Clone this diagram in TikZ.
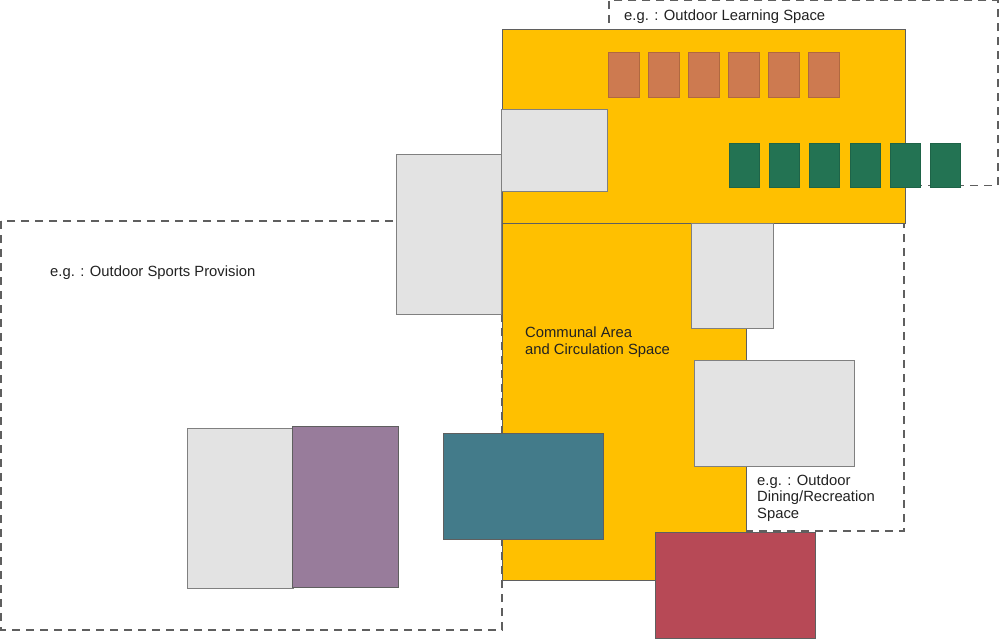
\documentclass[tikz,border=0pt]{standalone}
\usepackage{fontspec}
\setmainfont{Liberation Sans}
\definecolor{cyel}{HTML}{FFC000}
\definecolor{corange}{HTML}{CD7A50}
\definecolor{corangeb}{HTML}{B0683F}
\definecolor{cgreen}{HTML}{237353}
\definecolor{cgreenb}{HTML}{1E6448}
\definecolor{cgrey}{HTML}{E3E3E3}
\definecolor{cgreyb}{HTML}{808080}
\definecolor{cpurple}{HTML}{987C9B}
\definecolor{cteal}{HTML}{437B8A}
\definecolor{cred}{HTML}{B74956}
\definecolor{cedge}{HTML}{5F5F5F}
\definecolor{ctext}{HTML}{222222}
\begin{document}
\begin{tikzpicture}[x=1pt,y=-1pt,
  zone/.style={draw=cedge,line width=1.3pt,dash pattern=on 8pt off 6pt},
  hall/.style={fill=cyel,draw=cedge,line width=0.8pt},
  greybox/.style={fill=cgrey,draw=cgreyb,line width=1pt},
  classroom/.style={fill=corange,draw=corangeb,line width=0.8pt},
  greenroom/.style={fill=cgreen,draw=cgreenb,line width=0.8pt},
  colbox/.style={draw=cedge,line width=0.8pt},
  label/.style={font=\fontsize{14.8}{16.5}\selectfont,text=ctext,inner sep=0pt,anchor=base west,align=left}]
\useasboundingbox[fill=white] (0,0) rectangle (1000,639);
% dashed outdoor zones
\draw[zone] (609,0.8) rectangle (998,185.5);
\draw[zone] (1,221) rectangle (502,630);
\draw[zone] (746,222) rectangle (904,531);
% communal area
\draw[hall] (502,29) rectangle (905.5,223);
\draw[hall] (502.5,223) rectangle (746.5,580.5);
% classrooms
\foreach \x in {608.5,648.5,688.5,728.5,768.5,808.5}
  \draw[classroom] (\x,52) rectangle ++(31,45);
\foreach \x in {729,769,809.5,850,890,930.5}
  \draw[greenroom] (\x,143) rectangle ++(30,44);
% grey blocks
\draw[greybox] (501,110) rectangle (607,191);
\draw[greybox] (396,155) rectangle (501.5,314.5);
\draw[greybox] (691,223) rectangle (773,328);
\draw[greybox] (694.5,360) rectangle (854.5,466);
\draw[greybox] (187.5,428.5) rectangle (293.5,588);
% coloured blocks
\draw[colbox,fill=cpurple] (292,426.5) rectangle (398,587);
\draw[colbox,fill=cteal] (443,433.5) rectangle (603.5,539.5);
\draw[colbox,fill=cred] (655.5,532) rectangle (815.5,638.5);
% labels (multi-line labels are placed by their last baseline)
\node[label] (learn) at (624,20.5) {e.g. : Outdoor Learning Space};
\node[label] (sports) at (50,276.5) {e.g. : Outdoor Sports Provision};
\node[label] (communal) at (525,354) {Communal Area\\and Circulation Space};
\node[label] (dining) at (757,518) {e.g. : Outdoor\\Dining/Recreation\\Space};
\end{tikzpicture}
\end{document}
